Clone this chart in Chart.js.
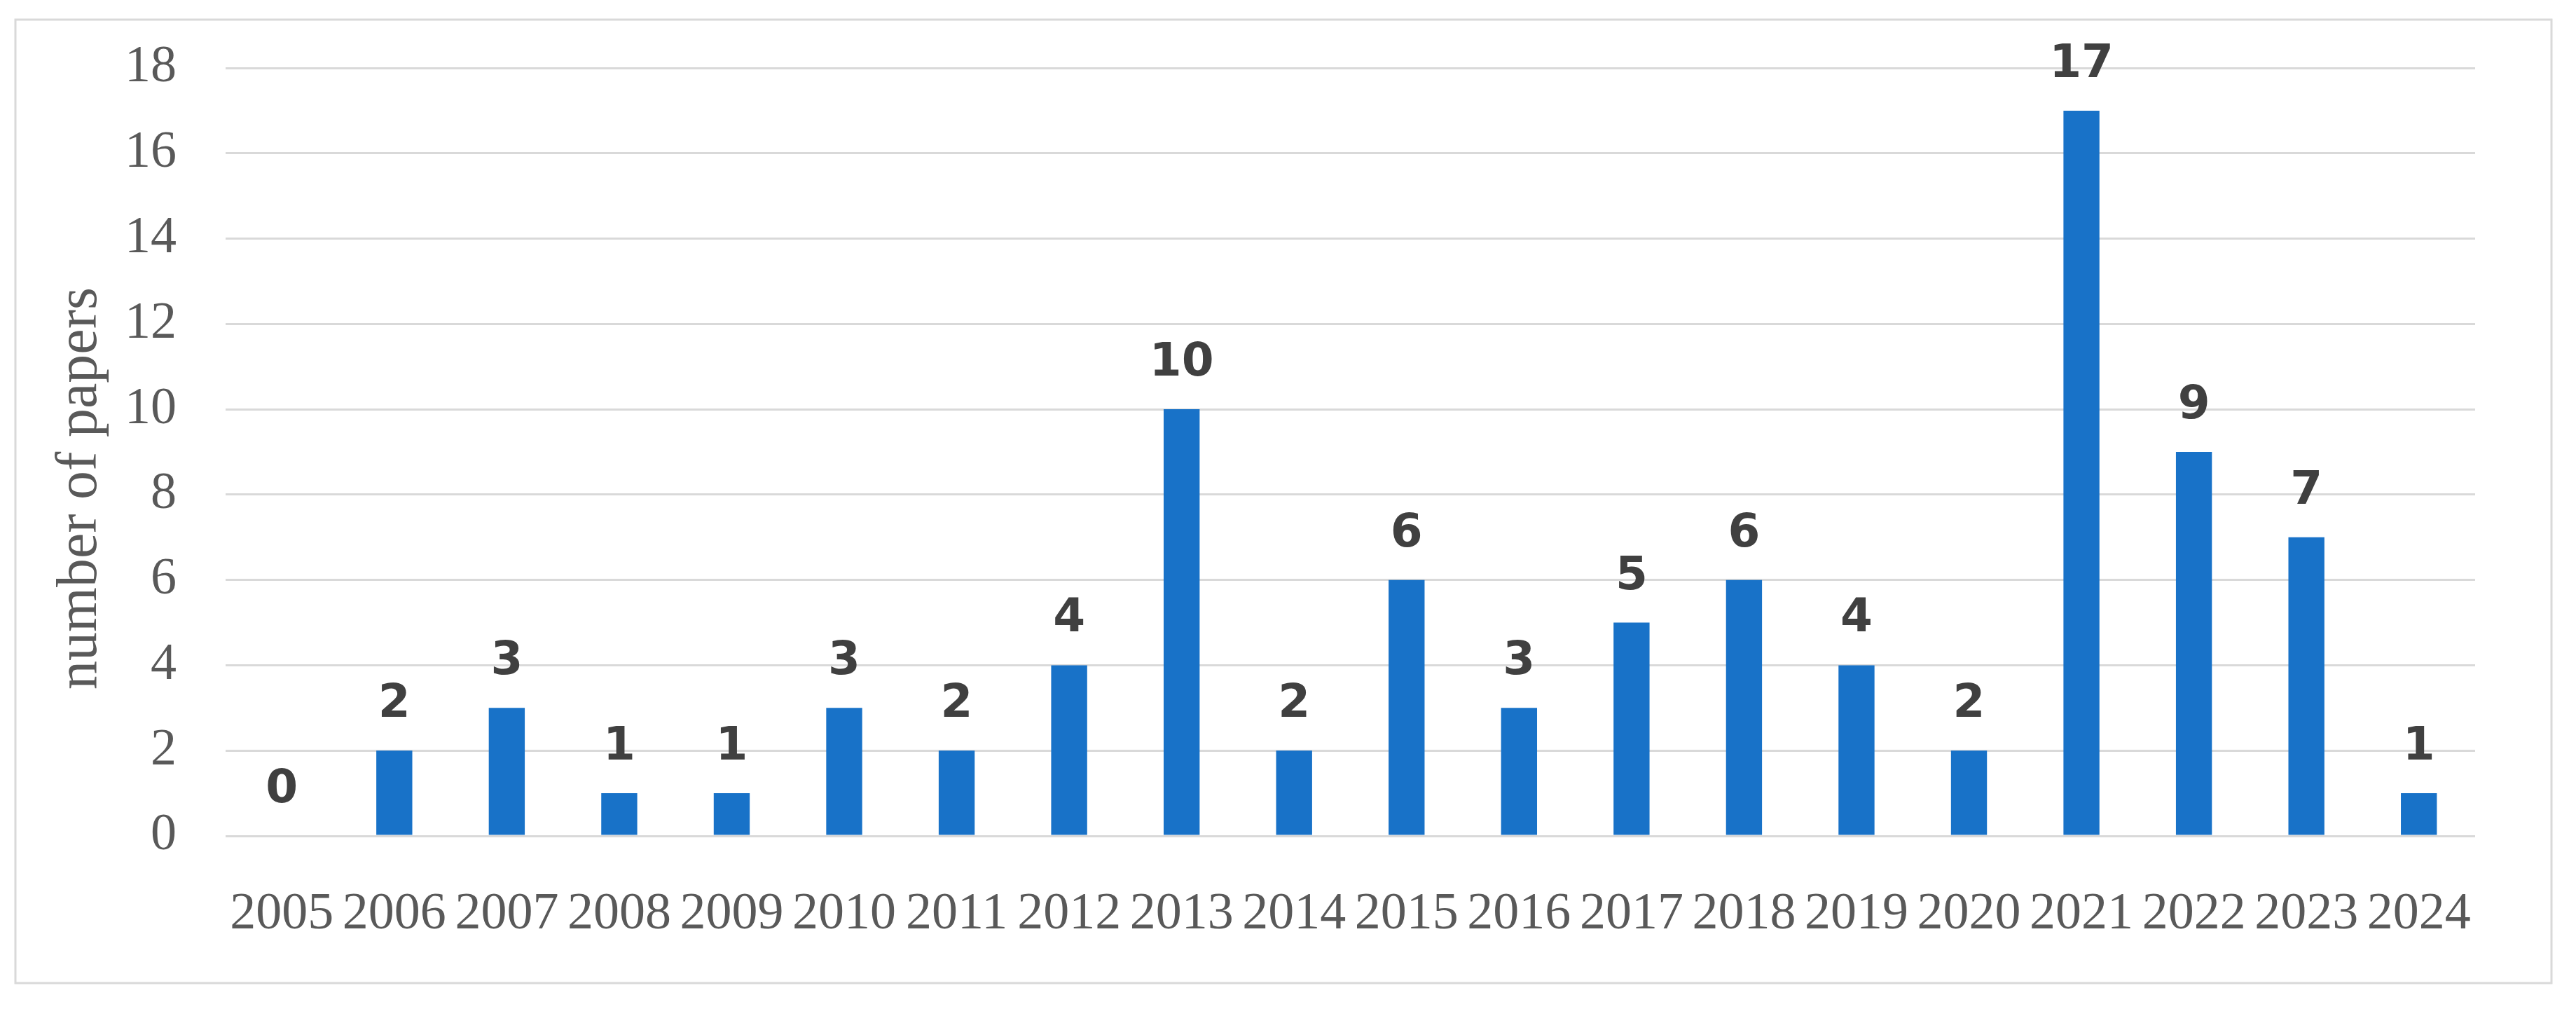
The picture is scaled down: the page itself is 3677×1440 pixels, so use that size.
<!DOCTYPE html>
<html>
<head>
<meta charset="utf-8">
<script src="https://cdn.jsdelivr.net/npm/chart.js@4.4.1/dist/chart.umd.min.js"></script>
<style>
  html, body { margin: 0; padding: 0; background: #fff; overflow: hidden; }
  canvas { display: block; }
</style>
</head>
<body>
<canvas id="papers-chart" width="3677" height="1440"></canvas>
<script>
const years = ['2005', '2006', '2007', '2008', '2009', '2010', '2011', '2012', '2013', '2014',
    '2015', '2016', '2017', '2018', '2019', '2020', '2021', '2022', '2023', '2024'];
const paperCounts = [0, 2, 3, 1, 1, 3, 2, 4, 10, 2, 6, 3, 5, 6, 4, 2, 17, 9, 7, 1];
const yTitle = 'number of papers';

// grey frame round the whole chart
const framePlugin = {
    id: 'frame',
    beforeDraw(chart) {
        const ctx = chart.ctx;
        ctx.save();
        ctx.strokeStyle = '#d9d9d9';
        ctx.lineWidth = 3;
        ctx.strokeRect(22, 28, 3620, 1375);
        ctx.restore();
    }
};

// value above every bar
const valueLabels = {
    id: 'valueLabels',
    afterDatasetsDraw(chart) {
        const ctx = chart.ctx;
        const meta = chart.getDatasetMeta(0);
        ctx.save();
        ctx.font = 'bold 66px "DejaVu Sans"';
        ctx.fillStyle = '#404040';
        ctx.textAlign = 'center';
        ctx.textBaseline = 'alphabetic';
        meta.data.forEach((bar, i) => {
            ctx.fillText(String(paperCounts[i]), bar.x, bar.y - 48);
        });
        ctx.restore();
    }
};

// rotated y axis title
const yTitlePlugin = {
    id: 'yTitle',
    afterDraw(chart) {
        const ctx = chart.ctx;
        ctx.save();
        ctx.translate(137, 697);
        ctx.rotate(-Math.PI / 2);
        ctx.font = '82px "Liberation Serif"';
        ctx.fillStyle = '#595959';
        ctx.textAlign = 'center';
        ctx.textBaseline = 'alphabetic';
        ctx.fillText(yTitle, 0, 0);
        ctx.restore();
    }
};

const ctx = document.getElementById('papers-chart').getContext('2d');
new Chart(ctx, {
    type: 'bar',
    data: {
        labels: years,
        datasets: [{
            label: yTitle,
            data: paperCounts,
            backgroundColor: '#1872c8',
            categoryPercentage: 1,
            barPercentage: 0.32
        }]
    },
    options: {
        responsive: false,
        animation: false,
        layout: {
            padding: { left: 0, top: 97, right: 144, bottom: 0 }
        },
        plugins: {
            legend: { display: false },
            tooltip: { enabled: false }
        },
        scales: {
            x: {
                afterFit: scale => { scale.height = 247; },
                grid: { display: false },
                border: { display: false },
                ticks: {
                    autoSkip: false,
                    maxRotation: 0,
                    padding: 60,
                    color: '#595959',
                    font: { family: '"Liberation Serif"', size: 74 }
                }
            },
            y: {
                min: 0,
                max: 18,
                afterFit: scale => {
                    scale.width = 322;
                    scale.paddingTop = 0;
                    scale.paddingBottom = 0;
                },
                border: { display: false },
                grid: {
                    color: '#d9d9d9',
                    lineWidth: 3,
                    drawTicks: false
                },
                ticks: {
                    stepSize: 2,
                    padding: 70,
                    color: '#595959',
                    font: { family: '"Liberation Serif"', size: 74 }
                }
            }
        }
    },
    plugins: [framePlugin, valueLabels, yTitlePlugin]
});
</script>
</body>
</html>
